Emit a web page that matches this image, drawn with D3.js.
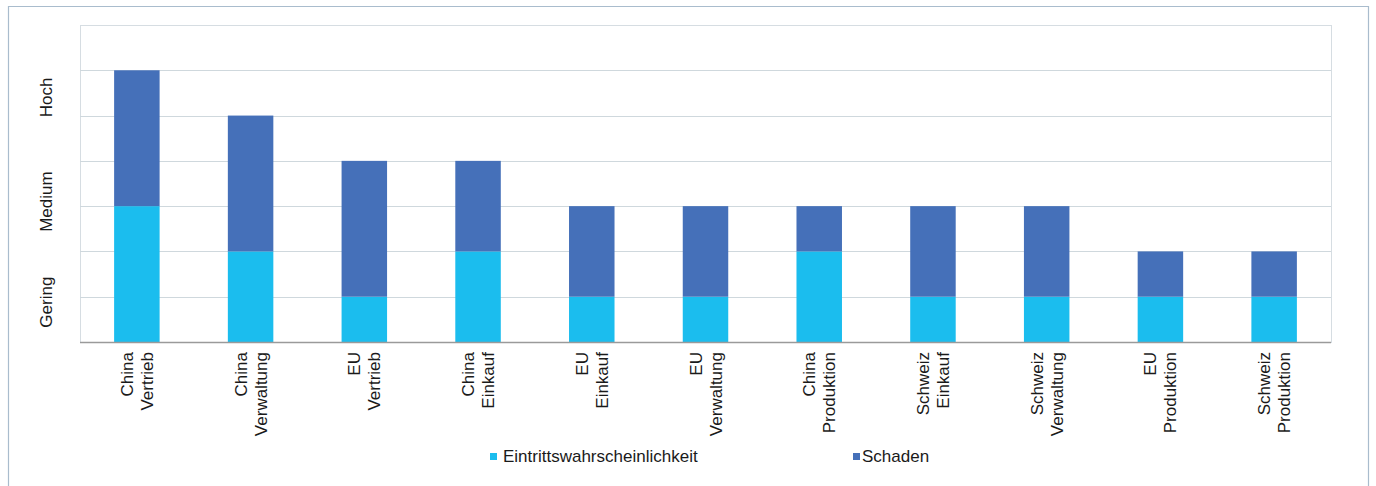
<!DOCTYPE html>
<meta charset="utf-8">
<script src="https://d3js.org/d3.v7.min.js"></script>
<style>
  body { margin: 0; background: #fff; }
  text { font-family: "Liberation Sans", Arial, sans-serif; fill: #1a1a1a; }
</style>
<div id="my_dataviz"></div>
<script>

// categories (two lines each) and the two stacked series
const categories = [
  ["China", "Vertrieb"], ["China", "Verwaltung"], ["EU", "Vertrieb"], ["China", "Einkauf"],
  ["EU", "Einkauf"], ["EU", "Verwaltung"], ["China", "Produktion"], ["Schweiz", "Einkauf"],
  ["Schweiz", "Verwaltung"], ["EU", "Produktion"], ["Schweiz", "Produktion"]
];
const eintritt = [3, 2, 1, 2, 1, 1, 2, 1, 1, 1, 1];
const schaden  = [3, 3, 3, 2, 2, 2, 1, 2, 2, 1, 1];
const seriesNames = ["Eintrittswahrscheinlichkeit", "Schaden"];
const colors = ["#1bbdee", "#4570b9"];

// y-axis labels and the value they sit at
const levelLabels = ["Gering", "Medium", "Hoch"];
const levelPos = [0.88, 3.1, 5.4];

const W = 1376, H = 486;
const margin = {top: 25, right: 45, bottom: 144, left: 80};
const width = W - margin.left - margin.right;
const height = H - margin.top - margin.bottom;

const root = d3.select("#my_dataviz").append("svg")
  .attr("width", W).attr("height", H);

// outer frame
root.append("path")
  .attr("d", `M8.5,${H + 2} V6.5 H1368.5 V${H + 2}`)
  .attr("fill", "none").attr("stroke", "#a9bccd").attr("stroke-width", 1.2);

const svg = root.append("g")
  .attr("transform", `translate(${margin.left},${margin.top})`);

const x = d3.scaleBand()
  .domain(d3.range(categories.length))
  .range([0, width])
  .paddingInner(0.6).paddingOuter(0.3);

const y = d3.scaleLinear().domain([0, 7]).range([height, 0]);

// plot area frame + gridlines
svg.append("rect")
  .attr("x", 0.5).attr("y", 0.5).attr("width", width).attr("height", height)
  .attr("fill", "#fff").attr("stroke", "#d6dde2");

svg.append("g")
  .selectAll("line")
  .data(d3.range(1, 7))
  .join("line")
    .attr("x1", 0).attr("x2", width)
    .attr("y1", d => Math.round(y(d)) + 0.5).attr("y2", d => Math.round(y(d)) + 0.5)
    .attr("stroke", "#cfd8dd");

// stacked bars
const rows = categories.map((c, i) => ({i: i, e: eintritt[i], s: schaden[i]}));
const stack = d3.stack().keys(["e", "s"])(rows);

svg.append("g")
  .selectAll("g")
  .data(stack)
  .join("g")
    .attr("fill", (d, k) => colors[k])
  .selectAll("rect")
  .data(d => d)
  .join("rect")
    .attr("x", d => x(d.data.i))
    .attr("width", x.bandwidth())
    .attr("y", d => y(d[1]))
    .attr("height", d => y(d[0]) - y(d[1]));

// bottom axis line
svg.append("line")
  .attr("x1", 0).attr("x2", width)
  .attr("y1", height + 0.5).attr("y2", height + 0.5)
  .attr("stroke", "#9a9a9a").attr("stroke-width", 1.5);

// category labels, rotated, two lines
svg.append("g")
  .selectAll("text")
  .data(categories)
  .join("text")
    .attr("transform", (d, i) => `translate(${x(i) + x.bandwidth() / 2},${height + 10}) rotate(-90)`)
    .attr("text-anchor", "end")
    .style("font-size", "17px")
  .selectAll("tspan")
  .data(d => d)
  .join("tspan")
    .attr("x", 0)
    .attr("y", (d, j) => (j === 0 ? -10 : 10) + 6)
    .text(d => d);

// y level labels
svg.append("g")
  .selectAll("text")
  .data(levelLabels)
  .join("text")
    .attr("transform", (d, i) => `translate(-34,${y(levelPos[i])}) rotate(-90)`)
    .attr("text-anchor", "middle")
    .attr("dy", "0.35em")
    .style("font-size", "17px")
    .text(d => d);

// legend
const legendX = [490, 853];
const legend = root.append("g")
  .selectAll("g")
  .data(seriesNames)
  .join("g")
    .attr("transform", (d, i) => `translate(${legendX[i]},456)`);
legend.append("rect")
  .attr("x", 0).attr("y", -3).attr("width", 7).attr("height", 7)
  .attr("fill", (d, i) => colors[i]);
legend.append("text")
  .attr("x", (d, i) => i === 0 ? 13 : 9)
  .attr("dy", "0.35em")
  .style("font-size", "17px")
  .text(d => d);

</script>
